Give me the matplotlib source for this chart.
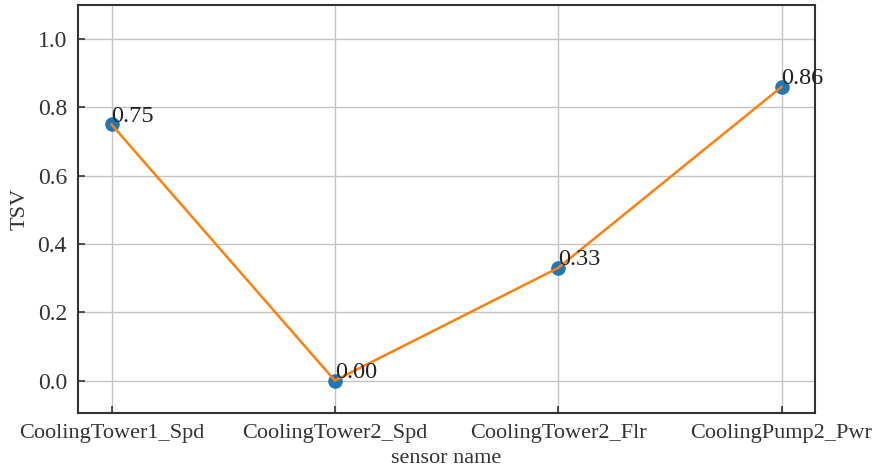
import matplotlib
matplotlib.use("Agg")
import matplotlib.pyplot as plt

sensors = ["CoolingTower1_Spd", "CoolingTower2_Spd", "CoolingTower2_Flr", "CoolingPump2_Pwr"]
tsv = [0.75, 0.00, 0.33, 0.86]

plt.rcParams['font.family'] = ['Liberation Serif', 'DejaVu Serif']

fig = plt.figure(figsize=(8.75, 4.73), dpi=100)
ax = fig.add_axes([78/875, 1-413/473, (815-78)/875, (413-5)/473])

x = list(range(len(sensors)))
ax.scatter(x, tsv, s=90, color='#1f77b4', zorder=3)
ax.plot(x, tsv, color='#ff7f0e', lw=1.8, zorder=4)
for xi, yi in zip(x, tsv):
    ax.text(xi, yi + 0.008, f"{yi:.2f}", fontsize=17.5, color='#222222', zorder=5)

ax.set_xticks(x)
ax.set_xticklabels(sensors)
ax.set_xlim(-0.15, 3.15)
ax.set_ylim(-0.095, 1.1)
ax.set_yticks([0.0, 0.2, 0.4, 0.6, 0.8, 1.0])
ax.grid(True, color='#c4c4c4', lw=1.0)
ax.set_axisbelow(True)
ax.tick_params(direction='in', length=5, width=1.2, labelsize=16, colors='#333333', pad=8)
ax.tick_params(axis='y', labelsize=17)
ax.set_xlabel("sensor name", fontsize=16, color='#333333', labelpad=4)
ax.set_ylabel("TSV", fontsize=16, color='#333333', labelpad=6)
for s in ax.spines.values():
    s.set_linewidth(1.5)
    s.set_color('#333333')

fig.savefig("out.png", dpi=100)
